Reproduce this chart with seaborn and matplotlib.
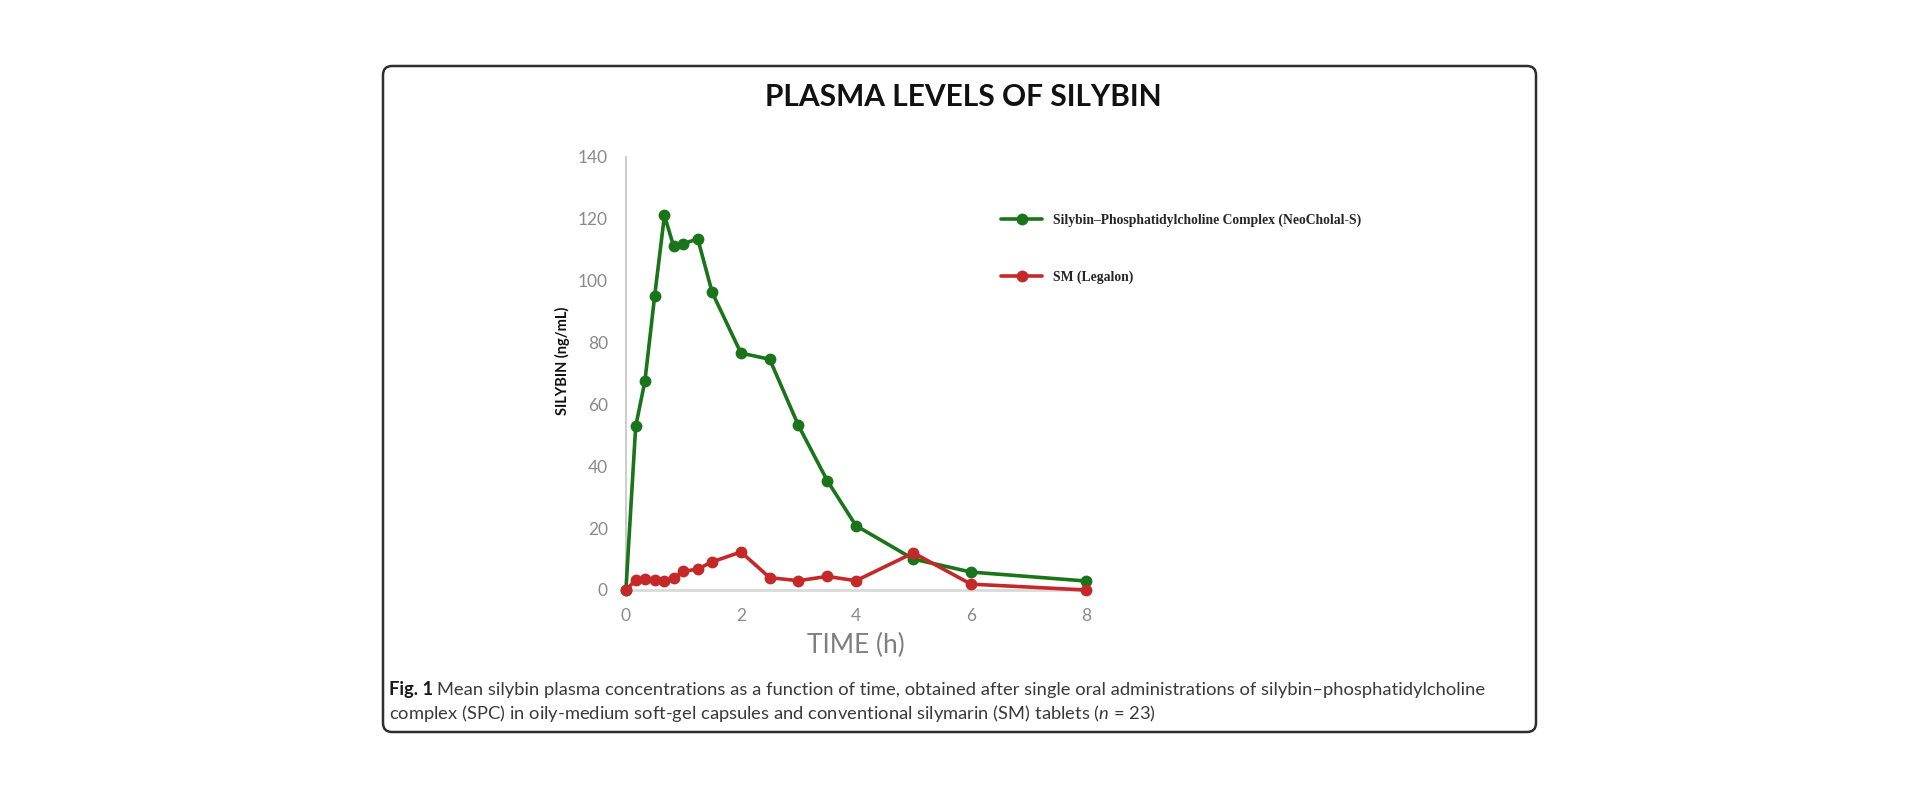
import matplotlib.pyplot as plt
import matplotlib.transforms as mtransforms
from matplotlib.patches import FancyBboxPatch
import pandas as pd
import seaborn as sns

# sampling times (h) and mean plasma silybin (ng/mL)
time_h = [0, 0.17, 0.33, 0.5, 0.67, 0.83, 1, 1.25, 1.5, 2, 2.5, 3, 3.5, 4, 5, 6, 8]
spc_values = [0, 52.9, 67.5, 95.1, 121.1, 111.1, 112.0, 113.5, 96.2, 76.6,
              74.6, 53.2, 35.4, 20.8, 10.0, 5.8, 2.9]
sm_values = [0, 3.2, 3.5, 3.1, 2.9, 3.8, 6.0, 6.8, 9.1, 12.3,
             4.0, 3.0, 4.4, 3.0, 12.0, 1.9, 0]

series_names = ["Silybin\u2013Phosphatidylcholine Complex (NeoCholal-S)", "SM (Legalon)"]
series_colors = ["#1a741a", "#c42828"]
x_ticks = [0, 2, 4, 6, 8]
y_ticks = [0, 20, 40, 60, 80, 100, 120, 140]

title = "PLASMA LEVELS OF SILYBIN"
x_label = "TIME (h)"
y_label = "SILYBIN (ng/mL)"
caption_bold = "Fig. 1"
caption_line1 = ("Mean silybin plasma concentrations as a function of time, obtained after single oral "
                 "administrations of silybin\u2013phosphatidylcholine")
caption_line2 = ("complex (SPC) in oily-medium soft-gel capsules and conventional silymarin (SM) "
                 "tablets ($\\it{n}$ = 23)")

df = pd.DataFrame({
    "time": time_h + time_h,
    "silybin": spc_values + sm_values,
    "series": [series_names[0]] * len(time_h) + [series_names[1]] * len(time_h),
})

sns.set_style("white")
plt.rcParams["font.family"] = ["Lato", "DejaVu Sans"]
plt.rcParams["mathtext.fontset"] = "custom"
plt.rcParams["mathtext.rm"] = "Lato"
plt.rcParams["mathtext.it"] = "Lato:italic"

fig = plt.figure(figsize=(19.2, 8), dpi=100)
fig.patch.set_facecolor("white")
ax = fig.add_axes([0.326, 0.2625, 0.2396, 0.5413])

sns.lineplot(data=df, x="time", y="silybin", hue="series",
             palette=dict(zip(series_names, series_colors)),
             marker="o", markersize=8.5, markeredgewidth=0, linewidth=2.6,
             sort=False, legend=False, ax=ax)
for line in ax.lines:
    line.set_clip_on(False)
    line.set_zorder(3)

ax.set_xlim(0, 8)
ax.set_ylim(0, 140)
ax.set_xticks(x_ticks)
ax.set_yticks(y_ticks)
ax.tick_params(length=0, pad=13, labelsize=12.5, labelcolor="#8a8a8a")
for side in ["top", "right"]:
    ax.spines[side].set_visible(False)
ax.spines["left"].set_color("#c8c8c8")
ax.spines["left"].set_linewidth(1.3)
ax.spines["bottom"].set_color("#d9d9d9")
ax.spines["bottom"].set_linewidth(2)

ax.set_xlabel(x_label, fontsize=19, color="#7f7f7f")
ax.xaxis.set_label_coords(0.5, -0.1)
ax.set_ylabel(y_label, fontsize=10.5, fontweight="bold", color="#111111")
ax.yaxis.set_label_coords(-0.139, 0.53)
ax.yaxis.label.set_va("center")

fig.text(0.5016, 1 - 97 / 800, title, ha="center", va="center",
         fontsize=21.5, fontweight="bold", color="#111111")

fig.legend(ax.lines[:2], series_names, loc="upper left",
           bbox_to_anchor=(0.5214, 0.733), frameon=False,
           borderpad=0, borderaxespad=0, handlelength=3.0, handletextpad=0.8,
           labelspacing=3.18, prop={"family": "Liberation Serif", "weight": "bold", "size": 9.8},
           labelcolor="#262626")

fig_lbl = fig.text(0.2026, 1 - 689 / 800, caption_bold, ha="left", va="center",
                   fontsize=13.2, fontweight="bold", color="#1a1a1a")
ax.annotate(caption_line1, xy=(1, 0), xycoords=fig_lbl, xytext=(3, 0),
            textcoords="offset points", ha="left", va="bottom",
            fontsize=13.2, color="#3a3a3a")
fig.text(0.2026, 1 - 714 / 800, caption_line2, ha="left", va="center",
         fontsize=13.2, color="#3a3a3a")

frame = FancyBboxPatch((383, 68), 1153, 666,
                       boxstyle="round,pad=0,rounding_size=9",
                       transform=mtransforms.IdentityTransform(),
                       fill=False, edgecolor="#2e2e2e", linewidth=1.8)
fig.add_artist(frame)

plt.savefig("out.png", dpi=100)
plt.close(fig)
